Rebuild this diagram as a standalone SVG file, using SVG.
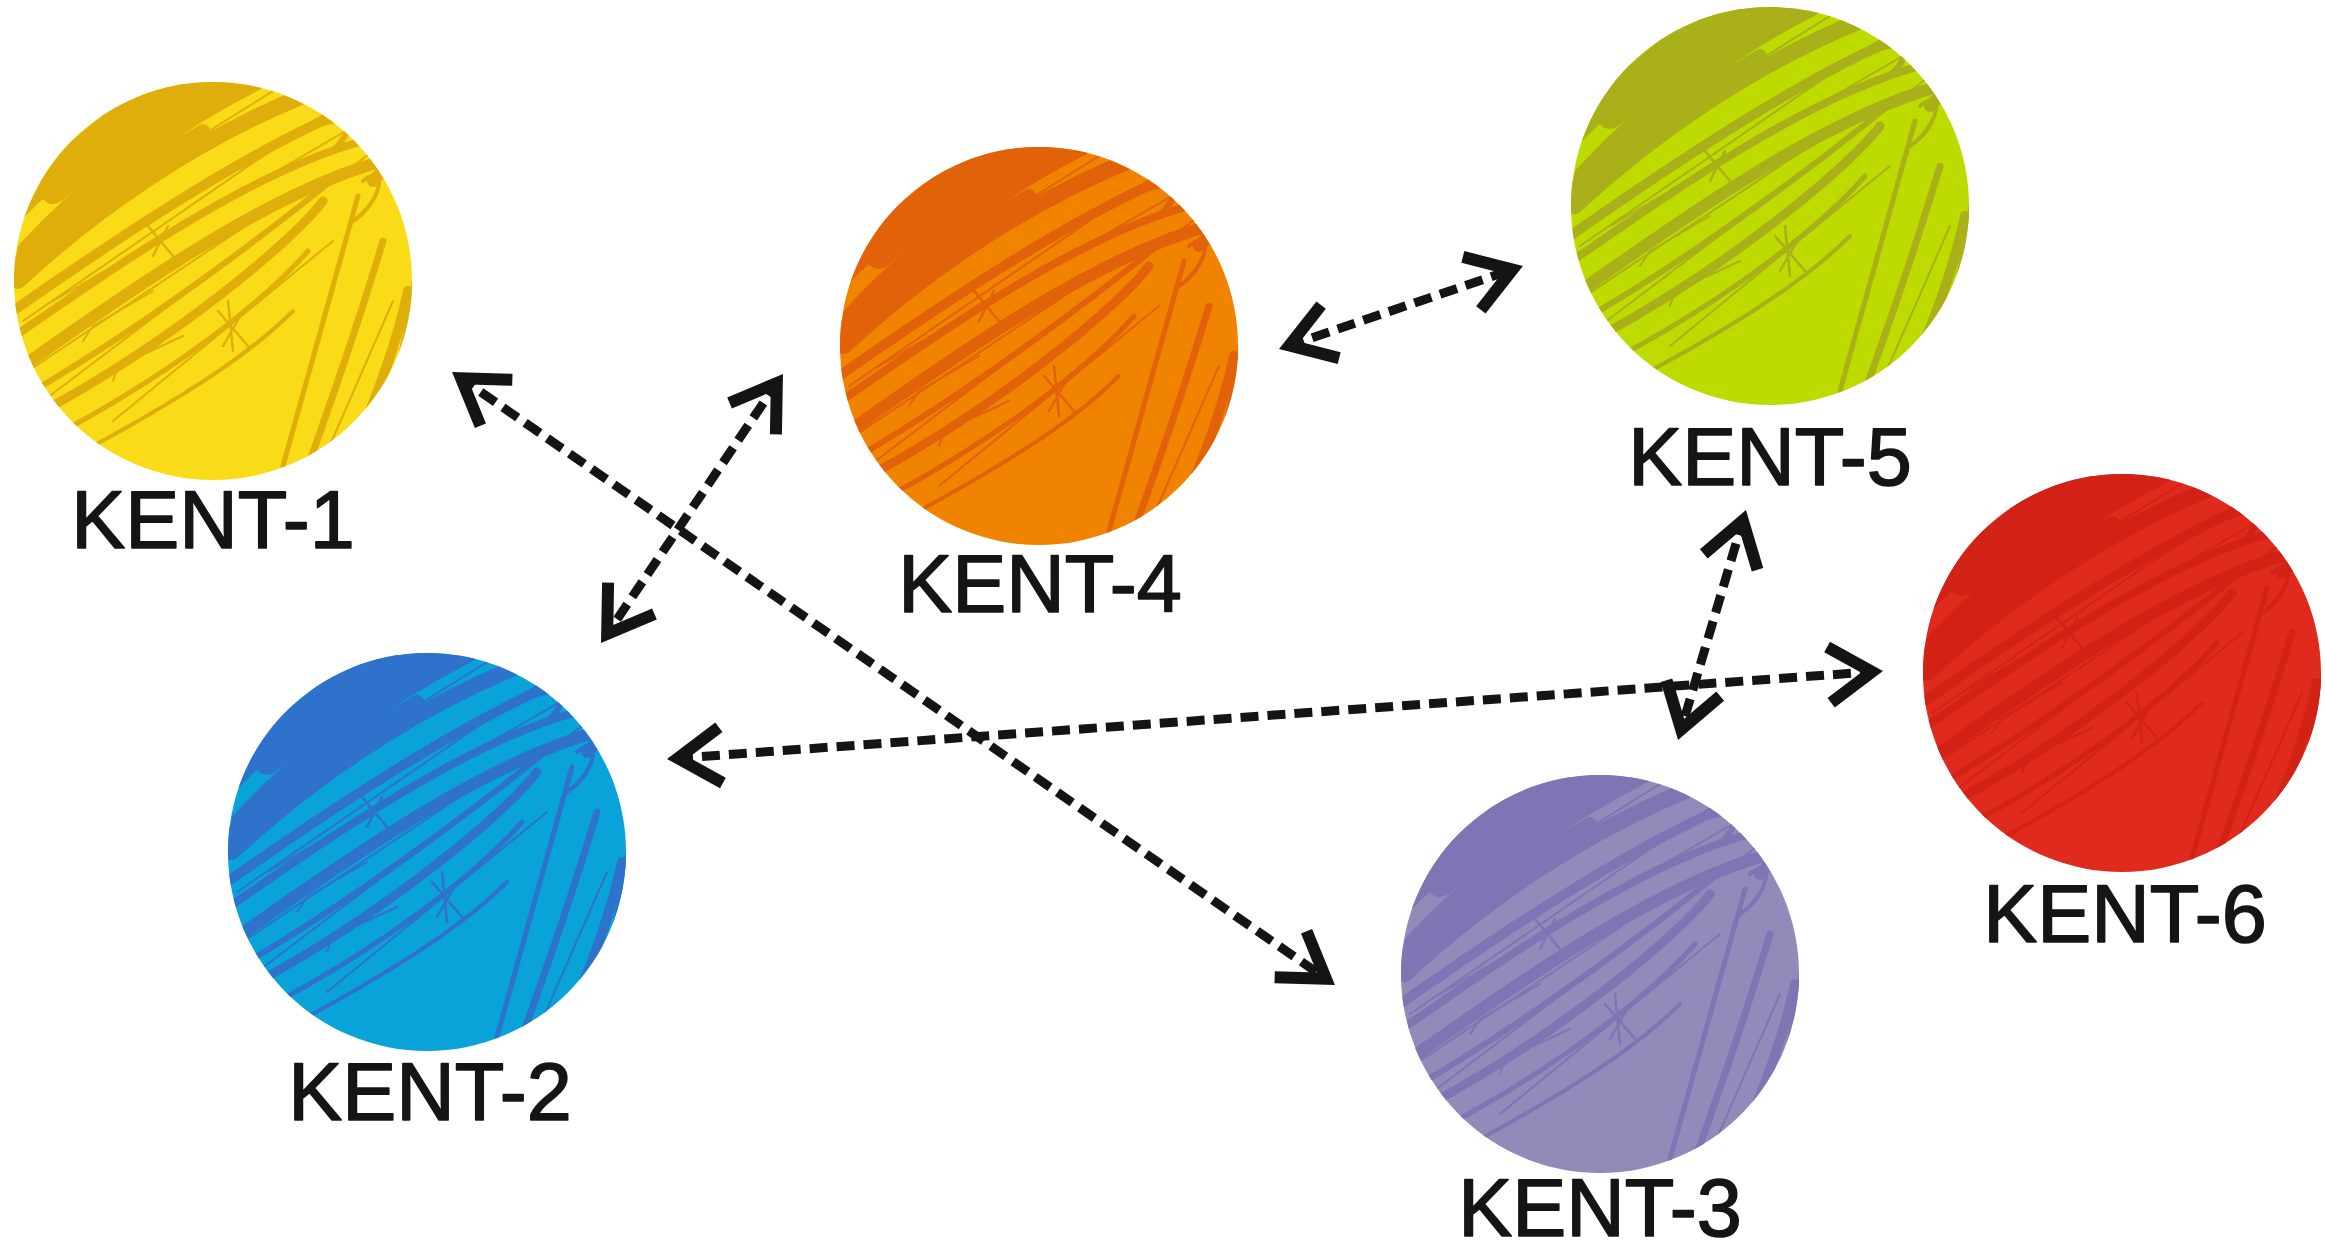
<svg xmlns="http://www.w3.org/2000/svg" xmlns:xlink="http://www.w3.org/1999/xlink" width="2325" height="1250" viewBox="0 0 2325 1250">
<style>
.lbl{font-family:"Liberation Sans","DejaVu Sans",Arial,sans-serif;font-size:81px;fill:#151515;stroke:#151515;stroke-width:1.6;stroke-linejoin:round;text-anchor:middle;}
.con{fill:none;stroke:#141414;stroke-width:9;stroke-dasharray:18 9;marker-start:url(#ah);marker-end:url(#ah);}
.tex{fill:none;stroke:currentColor;stroke-linecap:round;stroke-linejoin:round;}
</style>
<defs>
<clipPath id="cc"><circle cx="0" cy="0" r="199"/></clipPath>
<marker id="ah" markerUnits="userSpaceOnUse" markerWidth="140" markerHeight="140" viewBox="-70 -70 140 140" refX="0" refY="0" orient="auto-start-reverse" overflow="visible">
<path d="M-46,-28 L-3,0 L-46,28" fill="none" stroke="#141414" stroke-width="12" stroke-linejoin="miter"/>
</marker>
<g id="tex" class="tex">
<path d="M-185,-30 C-120,-100 -40,-160 40,-200" stroke-width="22"/>
<path d="M-195,0 C-120,-70 -20,-140 90,-185" stroke-width="16"/>
<path d="M-160,-90 C-100,-140 -40,-180 0,-200" stroke-width="26"/>
<path d="M-210,-60 C-150,-120 -90,-170 -40,-200" stroke-width="24"/>
<path d="M-205,-10 C-150,-60 -80,-110 -10,-150" stroke-width="14"/>
<path d="M-200,30 C-100,-40 20,-120 120,-165" stroke-width="10"/>
<path d="M-198,55 C-90,-20 40,-110 150,-140" stroke-width="8"/>
<path d="M-190,85 C-70,0 60,-90 170,-120 Q185,-125 160,-100" stroke-width="12"/>
<path d="M-180,110 C-60,40 70,-60 130,-110" stroke-width="6"/>
<path d="M-170,130 C-40,60 80,-40 110,-80" stroke-width="9"/>
<path d="M-150,150 C-20,80 60,10 95,-30" stroke-width="5"/>
<path d="M-120,165 C0,100 50,60 80,30" stroke-width="4"/>
<path d="M-190,40 L130,-180 M-170,120 L160,-130 M-140,60 L100,-100 M-100,140 L120,-40 M-200,100 L40,-60 M-180,-40 L60,-190 M-160,20 L150,-160" stroke-width="2"/>
<path d="M-130,60 L-120,45 L-60,10 M-100,100 L-95,85 L-30,55" stroke-width="2"/>
<path d="M90,-150 C130,-170 150,-160 120,-130" stroke-width="6"/>
<path d="M150,-100 C175,-120 170,-80 140,-60" stroke-width="4"/>
<path d="M70,185 L145,-85" stroke-width="5"/>
<path d="M95,185 Q140,60 170,-40" stroke-width="7"/>
<path d="M140,170 Q180,80 195,10" stroke-width="10"/>
<path d="M170,140 Q195,60 205,-30" stroke-width="5"/>
<path d="M110,180 L180,20" stroke-width="2"/>
<path d="M5,30 L35,65 M30,30 L10,65 M15,20 L20,70" stroke-width="2.5"/>
<path d="M-65,-55 L-40,-25 M-45,-55 L-60,-25" stroke-width="2.5"/>
</g>
</defs>
<rect x="0" y="0" width="2325" height="1250" fill="#ffffff"/>

<g id="kent-1">
<g transform="translate(213,281)"><circle r="199" fill="#f9db17"/><use xlink:href="#tex" clip-path="url(#cc)" style="color:#dfae0b"/></g>
<text class="lbl" x="213" y="548">KENT-1</text>
</g>
<g id="kent-4">
<g transform="translate(1039,346)"><circle r="199" fill="#f08300"/><use xlink:href="#tex" clip-path="url(#cc)" style="color:#e2620a"/></g>
<text class="lbl" x="1040" y="612">KENT-4</text>
</g>
<g id="kent-5">
<g transform="translate(1770,206)"><circle r="199" fill="#bedb00"/><use xlink:href="#tex" clip-path="url(#cc)" style="color:#a9b01a"/></g>
<text class="lbl" x="1770" y="485">KENT-5</text>
</g>
<g id="kent-6">
<g transform="translate(2122,673)"><circle r="199" fill="#e12a1e"/><use xlink:href="#tex" clip-path="url(#cc)" style="color:#d22216"/></g>
<text class="lbl" x="2125" y="942">KENT-6</text>
</g>
<g id="kent-2">
<g transform="translate(427,852)"><circle r="199" fill="#09a3d9"/><use xlink:href="#tex" clip-path="url(#cc)" style="color:#2e72cc"/></g>
<text class="lbl" x="430" y="1120">KENT-2</text>
</g>
<g id="kent-3">
<g transform="translate(1600,974)"><circle r="199" fill="#928ab9"/><use xlink:href="#tex" clip-path="url(#cc)" style="color:#8174b4"/></g>
<text class="lbl" x="1600" y="1236">KENT-3</text>
</g>

<g id="connectors">
<path class="con" d="M458.6,376.6 L1328.4,980.4"/>
<path class="con" d="M778.5,380.6 L605.5,636.4"/>
<path class="con" d="M1286.6,346.4 L1515.4,268.6"/>
<path class="con" d="M675,758.4 L1875,671.6"/>
<path class="con" d="M1743.7,517.7 L1680.3,732.3"/>
</g>
</svg>
